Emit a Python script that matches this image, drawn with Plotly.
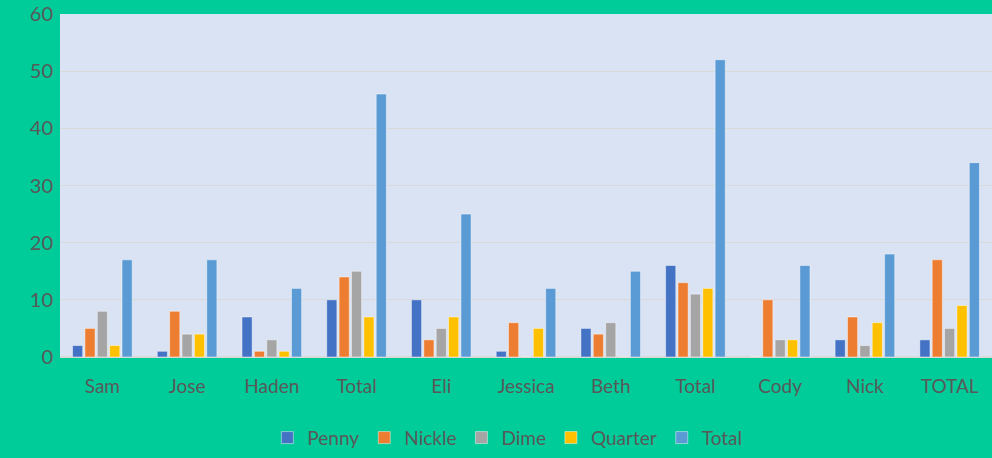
import plotly.graph_objects as go

categories = ["Sam", "Jose", "Haden", "Total", "Eli", "Jessica", "Beth", "Total", "Cody", "Nick", "TOTAL"]
penny = [2, 1, 7, 10, 10, 1, 5, 16, 0, 3, 3]
nickle = [5, 8, 1, 14, 3, 6, 4, 13, 10, 7, 17]
dime = [8, 4, 3, 15, 5, 0, 6, 11, 3, 2, 5]
quarter = [2, 4, 1, 7, 7, 5, 0, 12, 3, 6, 9]
total = [17, 17, 12, 46, 25, 12, 15, 52, 16, 18, 34]
y_ticks = [0, 10, 20, 30, 40, 50, 60]

series = [("Penny", penny, "#4472C4"), ("Nickle", nickle, "#ED7D31"),
          ("Dime", dime, "#A5A5A5"), ("Quarter", quarter, "#FFC000"),
          ("Total", total, "#5B9BD5")]
xpos = list(range(len(categories)))

fig = go.Figure()
for name, vals, col in series:
    fig.add_trace(go.Bar(x=xpos, y=vals, name=name, marker=dict(color=col,
                  line=dict(color="rgba(255,255,255,0.45)", width=1))))

fig.update_layout(
    width=992, height=458, barmode="group", bargap=0.27, bargroupgap=0.18,
    paper_bgcolor="#00CC99", plot_bgcolor="#DAE3F3",
    font=dict(family="Lato, Open Sans, sans-serif", color="#595959", size=19),
    margin=dict(l=60, r=0, t=14, b=101),
    xaxis=dict(tickvals=xpos, ticktext=categories, range=[-0.5, len(categories) - 0.5],
               showgrid=False, ticks="", tickfont=dict(size=19), showline=False,
               ticklabelstandoff=16),
    yaxis=dict(range=[0, 60], tickvals=y_ticks, gridcolor="#D9D9D9", gridwidth=1,
               zeroline=True, zerolinecolor="#D9D9D9", zerolinewidth=2,
               tickfont=dict(size=20), ticklabelstandoff=6),
    legend=dict(orientation="h", x=0.48, xanchor="center", y=-0.18, yanchor="top",
                font=dict(size=19), itemwidth=30, traceorder="normal"),
)

fig.write_html("out.html", config={"displayModeBar": False},
               post_script="document.body.style.margin='0';")
